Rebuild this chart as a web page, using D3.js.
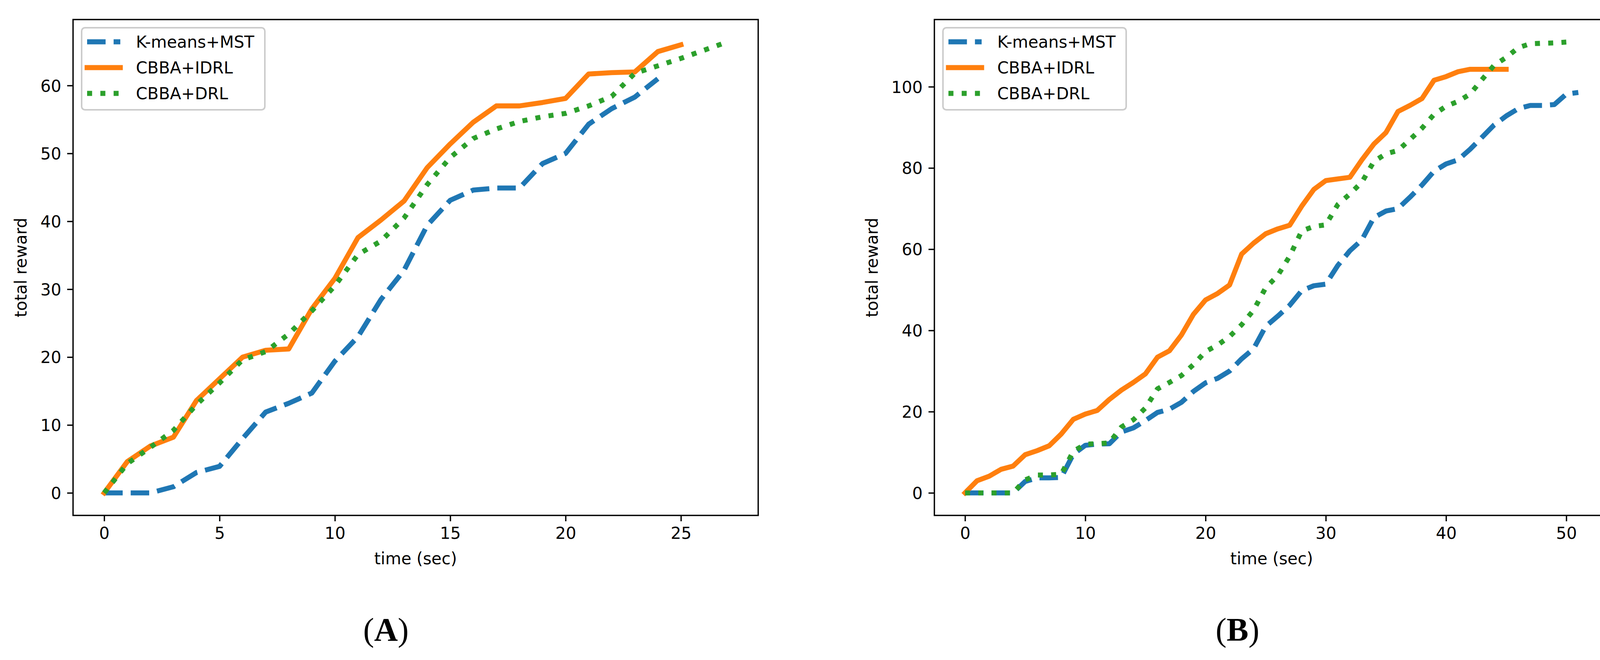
<!DOCTYPE html>
<html>
<head>
<meta charset="utf-8">
<script src="https://cdn.jsdelivr.net/npm/d3@7/dist/d3.min.js"></script>
<style>
	body { margin: 0; background: #fff; }
</style>
</head>
<body>
<div id="chart-area"></div>
<script>
// ---- data ----
var seriesNames = ['K-means+MST', 'CBBA+IDRL', 'CBBA+DRL'];

// panel (A)
var timeA = [0,1,2,3,4,5,6,7,8,9,10,11,12,13,14,15,16,17,18,19,20,21,22,23,24,25,26,27];
var kmeansA = [0, 0, 0, 0.9, 3.0, 3.9, 8.0, 11.9, 13.2, 14.7, 19.4, 23.0, 28.5, 32.8, 39.4, 43.1, 44.6, 44.9, 44.9, 48.5, 50.0, 54.3, 56.6, 58.3, 61.0];
var idrlA = [0, 4.6, 6.9, 8.2, 13.6, 16.8, 20.0, 21.0, 21.2, 27.1, 31.6, 37.6, 40.2, 43.0, 47.9, 51.4, 54.6, 57.0, 57.0, 57.5, 58.1, 61.7, 61.9, 62.0, 65.0, 66.0];
var drlA = [0, 4.3, 6.7, 9.2, 13.0, 16.2, 19.6, 20.8, 23.4, 26.8, 30.5, 35.1, 37.1, 40.5, 45.4, 49.4, 52.2, 53.6, 54.7, 55.4, 55.9, 57.0, 58.4, 61.8, 62.9, 64.0, 65.2, 66.4];
var xTicksA = [0, 5, 10, 15, 20, 25];
var yTicksA = [0, 10, 20, 30, 40, 50, 60];

// panel (B)
var timeB = [0,1,2,3,4,5,6,7,8,9,10,11,12,13,14,15,16,17,18,19,20,21,22,23,24,25,26,27,28,29,30,31,32,33,34,35,36,37,38,39,40,41,42,43,44,45,46,47,48,49,50,51];
var kmeansB = [0, 0, 0, 0, 0, 2.8, 3.7, 3.7, 3.8, 9.5, 11.7, 12.0, 12.1, 15.0, 16.0, 17.8, 19.8, 20.6, 22.3, 25.0, 27.1, 28.2, 30.0, 33.0, 35.5, 41.0, 43.5, 46.2, 49.8, 51.0, 51.4, 56.0, 59.6, 62.3, 67.8, 69.4, 70.0, 72.8, 75.8, 79.2, 81.0, 82.0, 84.6, 87.6, 90.6, 92.8, 94.6, 95.4, 95.4, 95.6, 98.2, 98.6];
var idrlB = [0, 3.0, 4.1, 5.8, 6.6, 9.4, 10.4, 11.6, 14.5, 18.1, 19.4, 20.3, 23.0, 25.3, 27.2, 29.3, 33.4, 35.0, 38.9, 44.0, 47.5, 49.1, 51.2, 58.8, 61.5, 63.8, 65.0, 65.9, 70.6, 74.7, 76.9, 77.3, 77.7, 82.0, 85.9, 88.7, 93.9, 95.4, 97.1, 101.6, 102.5, 103.7, 104.3, 104.3, 104.3, 104.3];
var drlB = [0, 0, 0, 0, 0, 3.2, 4.4, 4.4, 4.6, 10.2, 12.0, 12.1, 12.3, 16.2, 18.0, 20.9, 25.6, 27.2, 28.9, 31.6, 34.8, 36.4, 38.5, 41.4, 45.0, 50.5, 53.5, 58.3, 64.5, 65.6, 66.0, 71.0, 73.6, 76.5, 81.6, 83.5, 84.3, 87.0, 89.8, 93.2, 95.2, 96.4, 98.2, 101.8, 105.3, 107.2, 109.6, 110.6, 110.7, 110.8, 111.0];
var xTicksB = [0, 10, 20, 30, 40, 50];
var yTicksB = [0, 20, 40, 60, 80, 100];

// ---- styles ----
var colors = ['#1f77b4', '#ff7f0e', '#2ca02c'];
var lw = 12.8;
var dashes = [(3.7 * lw) + ',' + (1.6 * lw), null, lw + ',' + (1.65 * lw)];
var caps = ['butt', 'square', 'butt'];
var fontSize = 42;
var font = 'DejaVu Sans, sans-serif';

var width = 4163;
var height = 1689;

var svg = d3.select('#chart-area')
	.append('svg')
	.attr('width', width)
	.attr('height', height)
	.style('background', '#fff');

var panels = [
	{ left: 187, right: 1941, top: 50, bottom: 1319, ylabelX: 53, capX: 988, cap: 'A',
		time: timeA, series: [kmeansA, idrlA, drlA], xTicks: xTicksA, yTicks: yTicksA },
	{ left: 2392, right: 4119, top: 50, bottom: 1319, ylabelX: 2232, capX: 3168, cap: 'B',
		time: timeB, series: [kmeansB, idrlB, drlB], xTicks: xTicksB, yTicks: yTicksB }
];

function padded(lo, hi) {
	var m = (hi - lo) * 0.05;
	return [lo - m, hi + m];
}

panels.forEach(p => {
	var tMax = d3.max(p.series, s => p.time[s.length - 1]);
	var vMax = d3.max(p.series, s => d3.max(s));
	var vMin = d3.min(p.series, s => d3.min(s));

	var x = d3.scaleLinear().domain(padded(0, tMax)).range([p.left, p.right]);
	var y = d3.scaleLinear().domain(padded(vMin, vMax)).range([p.bottom, p.top]);

	var g = svg.append('g');

	// lines
	p.series.forEach((s, k) => {
		var line = d3.line()
			.x((d, i) => x(p.time[i]))
			.y(d => y(d));
		g.append('path')
			.datum(s)
			.attr('d', line)
			.attr('fill', 'none')
			.attr('stroke', colors[k])
			.attr('stroke-width', lw)
			.attr('stroke-linejoin', 'round')
			.attr('stroke-linecap', caps[k])
			.attr('stroke-dasharray', dashes[k]);
	});

	// frame
	g.append('rect')
		.attr('x', p.left)
		.attr('y', p.top)
		.attr('width', p.right - p.left)
		.attr('height', p.bottom - p.top)
		.attr('fill', 'none')
		.attr('stroke', '#000')
		.attr('stroke-width', 3.4);

	// axes
	var xAxis = d3.axisBottom(x).tickValues(p.xTicks).tickSize(15).tickPadding(15).tickSizeOuter(0);
	var yAxis = d3.axisLeft(y).tickValues(p.yTicks).tickSize(15).tickPadding(15).tickSizeOuter(0);

	var gx = g.append('g')
		.attr('transform', 'translate(0,' + p.bottom + ')')
		.call(xAxis);
	var gy = g.append('g')
		.attr('transform', 'translate(' + p.left + ',0)')
		.call(yAxis);

	[gx, gy].forEach(a => {
		a.select('.domain').remove();
		a.attr('font-family', font).attr('font-size', fontSize);
		a.selectAll('line').attr('stroke', '#000').attr('stroke-width', 3.4);
		a.selectAll('text').attr('fill', '#000');
	});
	gy.selectAll('text').attr('dy', '0.36em');

	// axis labels
	g.append('text')
		.attr('x', (p.left + p.right) / 2)
		.attr('y', 1444)
		.attr('text-anchor', 'middle')
		.attr('font-family', font)
		.attr('font-size', fontSize)
		.text('time (sec)');

	g.append('text')
		.attr('transform', 'translate(' + p.ylabelX + ',' + ((p.top + p.bottom) / 2) + ') rotate(-90)')
		.attr('text-anchor', 'middle')
		.attr('dy', '0.36em')
		.attr('font-family', font)
		.attr('font-size', fontSize)
		.text('total reward');

	// legend
	var lg = g.append('g').attr('transform', 'translate(' + p.left + ',' + p.top + ')');
	lg.append('rect')
		.attr('x', 22)
		.attr('y', 21)
		.attr('width', 469)
		.attr('height', 210)
		.attr('rx', 8.5)
		.attr('fill', '#fff')
		.attr('fill-opacity', 0.8)
		.attr('stroke', '#cccccc')
		.attr('stroke-width', 4);

	seriesNames.forEach((name, k) => {
		var ry = 57 + k * 66;
		lg.append('line')
			.attr('x1', 36)
			.attr('x2', 121)
			.attr('y1', ry)
			.attr('y2', ry)
			.attr('stroke', colors[k])
			.attr('stroke-width', lw)
			.attr('stroke-linecap', caps[k])
			.attr('stroke-dasharray', dashes[k]);
		lg.append('text')
			.attr('x', 161)
			.attr('y', ry)
			.attr('dy', '0.36em')
			.attr('font-family', font)
			.attr('font-size', fontSize)
			.attr('fill', '#000')
			.text(name);
	});

	// caption
	var cap = svg.append('text')
		.attr('x', p.capX)
		.attr('y', 1640)
		.attr('text-anchor', 'middle')
		.attr('font-family', 'Liberation Serif, serif')
		.attr('font-size', 84)
		.attr('fill', '#000');
	cap.append('tspan').text('(');
	cap.append('tspan').attr('font-weight', 'bold').text(p.cap);
	cap.append('tspan').text(')');
});
</script>
</body>
</html>
